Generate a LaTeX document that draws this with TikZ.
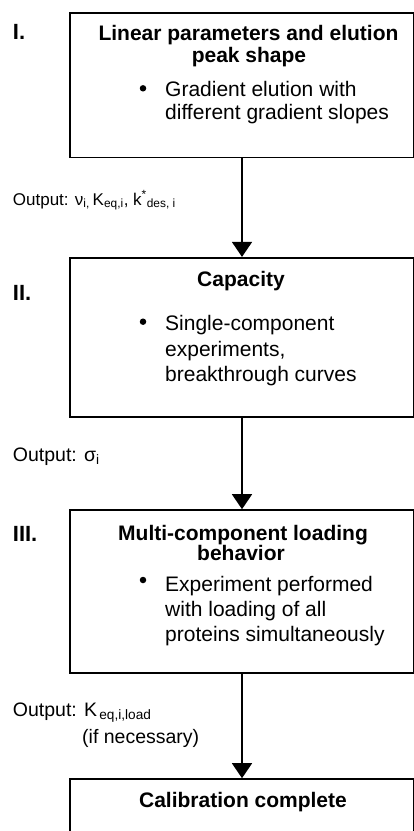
\documentclass[tikz,border=0pt]{standalone}
\usepackage{fontspec}
\setmainfont{Liberation Sans}
\usetikzlibrary{arrows.meta,positioning}
\tikzstyle{stage} = [rectangle, draw, line width=1.6pt, minimum width=344pt, inner sep=0pt]
\tikzstyle{arrow} = [line width=1.6pt, -{Triangle[width=20pt,length=15pt]}]
\tikzstyle{head} = [anchor=base, inner sep=0pt, font=\fontsize{21}{23}\selectfont\bfseries]
\tikzstyle{item} = [anchor=base west, inner sep=0pt, font=\fontsize{21}{23}\selectfont]
\tikzstyle{numeral} = [anchor=base west, inner sep=0pt, font=\fontsize{22}{24}\selectfont\bfseries]
\tikzstyle{output} = [anchor=base west, inner sep=0pt, font=\fontsize{19.5}{22}\selectfont]
\tikzstyle{bullet} = [circle, fill, inner sep=0pt, minimum size=6.5pt]
\begin{document}
\begin{tikzpicture}[x=1pt, y=-1pt]
\useasboundingbox (0,0) rectangle (414,831);

% Stage I
\node[stage, minimum height=144.6pt] (s1) at (242,85) {};
\node[numeral] (n1) at (12.7,39) {I.};
\node[head] (h1a) at (248.5,40) {Linear parameters and elution};
\node[head] (h1b) at (249,62) {peak shape};
\node[bullet] (b1) at (143,88.3) {};
\node[item] (t1a) at (165,96.7) {Gradient elution with};
\node[item] (t1b) at (165,119) {different gradient slopes};

% Stage II
\node[stage, minimum height=159pt] (s2) at (242,337.2) {};
\node[numeral] (n2) at (12.7,300) {II.};
\node[head] (h2) at (241,286.7) {Capacity};
\node[bullet] (b2) at (143,321.7) {};
\node[item] (t2a) at (165,330) {Single-component};
\node[item] (t2b) at (165,356.7) {experiments,};
\node[item] (t2c) at (165,381.7) {breakthrough curves};

% Stage III
\node[stage, minimum height=163pt] (s3) at (242,591.5) {};
\node[numeral] (n3) at (12.7,541.7) {III.};
\node[head] (h3a) at (243,540) {Multi-component loading};
\node[head] (h3b) at (241,560) {behavior};
\node[bullet] (b3) at (143,580) {};
\node[item] (t3a) at (165,591.7) {Experiment performed};
\node[item] (t3b) at (165,616.7) {with loading of all};
\node[item] (t3c) at (165,641.7) {proteins simultaneously};

% End
\node[stage, minimum height=70pt] (s4) at (242,814) {};
\node[head] (h4) at (243,807) {Calibration complete};

% Outputs
\node[output, font=\fontsize{17}{20}\selectfont] (o1) at (12.7,205) {Output: ν\textsubscript{i,}\,K\textsubscript{eq,i}, k\textsuperscript{*}\textsubscript{des, i}};
\node[output] (o2) at (12.7,461) {Output: σ\textsubscript{i}};
\node[output] (o3) at (12.7,716) {Output: K\textsubscript{\,eq,i,load}};
\node[output] (o3b) at (82,743) {(if necessary)};

% Arrows
\draw[arrow] (s1) -- (s2);
\draw[arrow] (s2) -- (s3);
\draw[arrow] (s3) -- (s4);
\end{tikzpicture}
\end{document}
